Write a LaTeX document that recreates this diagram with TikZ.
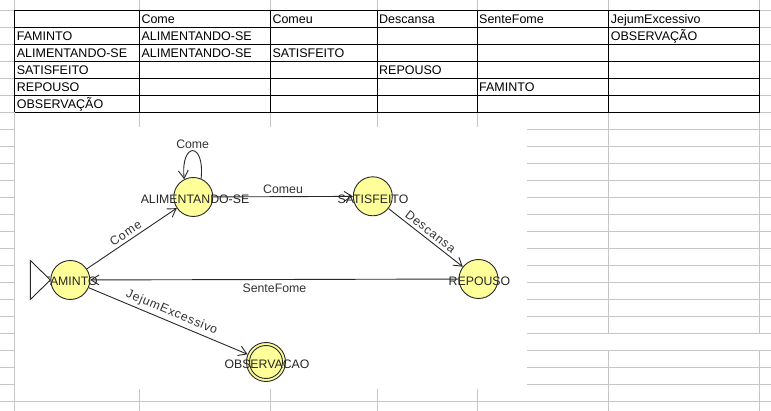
\documentclass[tikz,border=0pt]{standalone}
\usepackage{fontspec}
\setmainfont{Liberation Sans}
\newfontfamily\spacedfont[LetterSpace=6]{Liberation Sans}
\usetikzlibrary{arrows.meta}
\definecolor{gridgray}{RGB}{198,198,198}
\definecolor{stfill}{RGB}{255,255,153}
\definecolor{edgecol}{RGB}{40,40,40}
\begin{document}
\begin{tikzpicture}[x=1pt,y=-1pt,
  gridline/.style={draw=gridgray, line width=1pt},
  tabline/.style={draw=black, line width=1pt},
  cell/.style={anchor=base west, inner sep=0pt, font=\fontsize{12.5}{15}\selectfont},
  state/.style={circle, draw=edgecol, fill=stfill, minimum size=39pt, inner sep=0pt, line width=0.9pt},
  stlabel/.style={font=\fontsize{12.3}{14}\selectfont, inner sep=0pt, text=black!85},
  elabel/.style={font=\fontsize{12.3}{14}\selectfont, text=black!80, inner sep=3pt},
  slabel/.style={font=\fontsize{12.3}{14}\selectfont\spacedfont, text=black!80, inner sep=3pt, sloped, above},
  arr/.style={draw=edgecol, line width=0.9pt, -{Straight Barb[length=8pt,width=10pt]}}]
\useasboundingbox (0,0) rectangle (771,411);
\fill[white] (0,0) rectangle (771,411);
% ---- spreadsheet grid (gray) ----
\foreach \k in {0,...,23} \draw[gridline] (0,{10.3+17*\k}) -- (14.7,{10.3+17*\k});
\foreach \k in {0,...,6} \draw[gridline] (759.7,{10.3+17*\k}) -- (771,{10.3+17*\k});
\foreach \k in {7,...,22} \draw[gridline] (527,{10.3+17*\k}) -- (771,{10.3+17*\k});
\draw[gridline] (14.7,401.3) -- (771,401.3);
\draw[gridline] (14.7,0) -- (14.7,411);
\foreach \x in {139.3,270.3,377.3,477.3} {
  \draw[gridline] (\x,0) -- (\x,10.3);
  \draw[gridline] (\x,112.3) -- (\x,127);
  \draw[gridline] (\x,389) -- (\x,411);
}
\foreach \x in {608.7,759.7} {
  \draw[gridline] (\x,0) -- (\x,10.3);
  \draw[gridline] (\x,112.3) -- (\x,333.3);
  \draw[gridline] (\x,350.3) -- (\x,411);
}
% ---- table (black) ----
\foreach \y in {10.3,27.3,44.3,61.3,78.3,95.3,112.3} \draw[tabline] (14.7,\y) -- (759.7,\y);
\foreach \x in {14.7,139.3,270.3,377.3,477.3,608.7,759.7} \draw[tabline] (\x,10.3) -- (\x,112.3);
% header
\node[cell] (h1) at (141.3,23.8) {Come};
\node[cell] (h2) at (272.3,23.8) {Comeu};
\node[cell] (h3) at (379,23.8) {Descansa};
\node[cell] (h4) at (479,23.8) {SenteFome};
\node[cell] (h5) at (610.7,23.8) {JejumExcessivo};
% rows
\node[cell] (r1) at (16.7,40.8) {FAMINTO};
\node[cell] (r1c1) at (141.3,40.8) {ALIMENTANDO-SE};
\node[cell] (r1c5) at (610.7,40.8) {OBSERVAÇÃO};
\node[cell] (r2) at (16.7,57.8) {ALIMENTANDO-SE};
\node[cell] (r2c1) at (141.3,57.8) {ALIMENTANDO-SE};
\node[cell] (r2c2) at (272.3,57.8) {SATISFEITO};
\node[cell] (r3) at (16.7,74.8) {SATISFEITO};
\node[cell] (r3c3) at (379,74.8) {REPOUSO};
\node[cell] (r4) at (16.7,91.8) {REPOUSO};
\node[cell] (r4c4) at (479,91.8) {FAMINTO};
\node[cell] (r5) at (16.7,108.8) {OBSERVAÇÃO};
% ---- automaton ----
\node[state] (fam) at (70.3,280) {};
\node[state] (alim) at (193.3,197) {};
\node[state] (sat) at (372.8,196.3) {};
\node[state] (rep) at (478.5,279) {};
\node[state] (obs) at (266,362) {};
\draw[draw=edgecol, line width=0.9pt] (obs.center) circle[radius=16.5pt];
\node[stlabel] (famL) at (70.4,281.5) {FAMINTO};
\node[stlabel] (alimL) at (195,199) {ALIMENTANDO-SE};
\node[stlabel] (satL) at (373,199) {SATISFEITO};
\node[stlabel] (repL) at (479.5,281) {REPOUSO};
\node[stlabel] (obsL) at (267,364) {OBSERVACAO};
% initial-state triangle
\draw[draw=edgecol, fill=white, line width=0.9pt] (fam.west) -- ++(-20,-19.5) -- ++(0,39) -- cycle;
% transitions
\draw[arr] (fam) -- node[slabel, pos=0.48] (lCome) {Come} (alim);
\draw[arr] (alim.67) .. controls +(4,-37.5) and +(-4,-37.5) .. node[elabel, above, inner sep=1.5pt] (lLoop) {Come} (alim.117);
\draw[arr] (alim) -- node[elabel, above] (lComeu) {Comeu} (sat);
\draw[arr] (sat) -- node[slabel] (lDesc) {Descansa} (rep);
\draw[arr] (rep) -- node[elabel, below, inner sep=4pt] (lSente) {SenteFome} (fam);
\draw[arr] (fam) -- node[slabel] (lJejum) {JejumExcessivo} (obs);
\end{tikzpicture}
\end{document}
